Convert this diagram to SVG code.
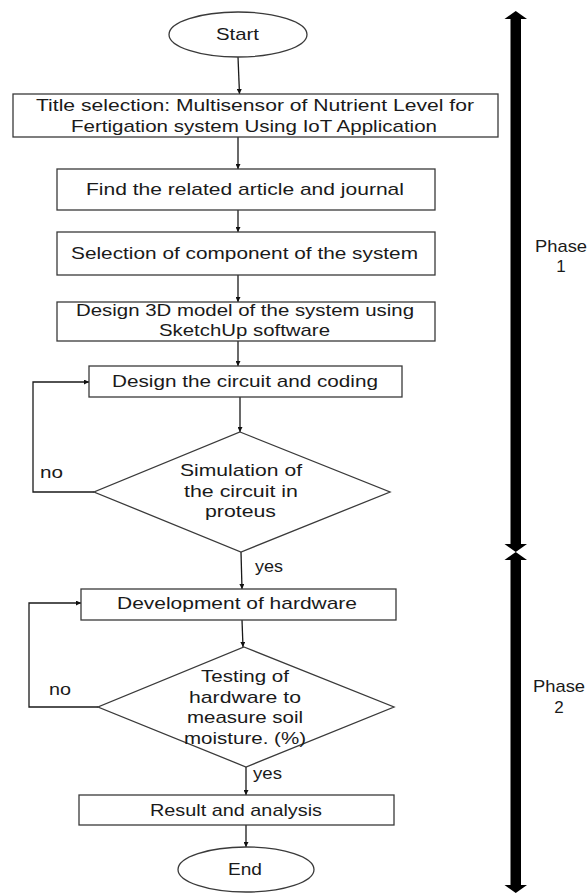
<svg xmlns="http://www.w3.org/2000/svg" width="588" height="893" viewBox="0 0 588 893">
<defs>
<marker id="ah" viewBox="0 0 8 8" refX="8" refY="4" markerWidth="5" markerHeight="5" orient="auto" markerUnits="userSpaceOnUse">
<path d="M0,0 L8,4 L0,8 z" fill="#111"/>
</marker>
<style>
.box{fill:#fff;stroke:#3a3a3a;stroke-width:1.3}
.t{font-family:"Liberation Sans",Arial,sans-serif;font-size:17px;fill:#1a1a1a;text-anchor:middle}
.l{font-family:"Liberation Sans",Arial,sans-serif;font-size:17px;fill:#1a1a1a}
.c{fill:none;stroke:#1a1a1a;stroke-width:1.3}
.big{fill:#000}
</style>
</defs>
<rect width="588" height="893" fill="#fff"/>
<g id="connectors">
<path class="c" d="M238,57 L239.5,94" marker-end="url(#ah)"/>
<path class="c" d="M238,137 L238,169" marker-end="url(#ah)"/>
<path class="c" d="M238,210 L238,232" marker-end="url(#ah)"/>
<path class="c" d="M238,275 L238,302" marker-end="url(#ah)"/>
<path class="c" d="M238,341 L238,366" marker-end="url(#ah)"/>
<path class="c" d="M240,397 L240,432" marker-end="url(#ah)"/>
<path class="c" d="M94,492 L33,492 L33,382 L89,382" marker-end="url(#ah)"/>
<path class="c" d="M241,552 L242,589" marker-end="url(#ah)"/>
<path class="c" d="M242,620 L243,647" marker-end="url(#ah)"/>
<path class="c" d="M98,707 L29,707 L29,603 L81,603" marker-end="url(#ah)"/>
<path class="c" d="M246,767 L246,795" marker-end="url(#ah)"/>
<path class="c" d="M246,825 L246,847" marker-end="url(#ah)"/>
<text class="l" x="40" y="478" textLength="23" lengthAdjust="spacingAndGlyphs">no</text>
<text class="l" x="255" y="572" textLength="28" lengthAdjust="spacingAndGlyphs">yes</text>
<text class="l" x="49" y="695" textLength="22" lengthAdjust="spacingAndGlyphs">no</text>
<text class="l" x="253" y="779" textLength="29" lengthAdjust="spacingAndGlyphs">yes</text>
</g>
<g id="start">
<ellipse class="box" cx="238" cy="34.5" rx="69" ry="22.5"/>
<text class="t" x="237.5" y="40" textLength="43" lengthAdjust="spacingAndGlyphs">Start</text>
</g>
<g id="title">
<rect class="box" x="13" y="94" width="485" height="43"/>
<text class="t" x="255" y="111" textLength="438" lengthAdjust="spacingAndGlyphs">Title selection: Multisensor of Nutrient Level for</text>
<text class="t" x="254" y="132" textLength="366" lengthAdjust="spacingAndGlyphs">Fertigation system Using IoT Application</text>
</g>
<g id="find">
<rect class="box" x="57" y="169" width="378" height="41"/>
<text class="t" x="245" y="195" textLength="318" lengthAdjust="spacingAndGlyphs">Find the related article and journal</text>
</g>
<g id="selection">
<rect class="box" x="57" y="232" width="378" height="43"/>
<text class="t" x="244.5" y="259" textLength="347" lengthAdjust="spacingAndGlyphs">Selection of component of the system</text>
</g>
<g id="design3d">
<rect class="box" x="57" y="302" width="378" height="39"/>
<text class="t" x="245" y="316" textLength="338" lengthAdjust="spacingAndGlyphs">Design 3D model of the system using</text>
<text class="t" x="244.5" y="336" textLength="171" lengthAdjust="spacingAndGlyphs">SketchUp software</text>
</g>
<g id="circuit">
<rect class="box" x="89" y="366" width="313" height="31"/>
<text class="t" x="245" y="387" textLength="266" lengthAdjust="spacingAndGlyphs">Design the circuit and coding</text>
</g>
<g id="simulation">
<polygon class="box" points="240,432 390,492 241,552 94,492"/>
<text class="t" x="241" y="476" textLength="122" lengthAdjust="spacingAndGlyphs">Simulation of</text>
<text class="t" x="241" y="497" textLength="114" lengthAdjust="spacingAndGlyphs">the circuit in</text>
<text class="t" x="240.5" y="517" textLength="71" lengthAdjust="spacingAndGlyphs">proteus</text>
</g>
<g id="hardware">
<rect class="box" x="81" y="589" width="315" height="31"/>
<text class="t" x="237" y="609" textLength="240" lengthAdjust="spacingAndGlyphs">Development of hardware</text>
</g>
<g id="testing">
<polygon class="box" points="244,647 394,707 246,767 98,707"/>
<text class="t" x="245" y="682" textLength="88" lengthAdjust="spacingAndGlyphs">Testing of</text>
<text class="t" x="245" y="703" textLength="112" lengthAdjust="spacingAndGlyphs">hardware to</text>
<text class="t" x="245" y="723" textLength="116" lengthAdjust="spacingAndGlyphs">measure soil</text>
<text class="t" x="245" y="744" textLength="122" lengthAdjust="spacingAndGlyphs">moisture. (%)</text>
</g>
<g id="result">
<rect class="box" x="79" y="795" width="315" height="30"/>
<text class="t" x="236" y="816" textLength="172" lengthAdjust="spacingAndGlyphs">Result and analysis</text>
</g>
<g id="end">
<ellipse class="box" cx="246" cy="869.5" rx="68" ry="22.5"/>
<text class="t" x="245" y="875" textLength="34" lengthAdjust="spacingAndGlyphs">End</text>
</g>
<g id="phase1">
<polygon class="big" points="515.75,11 527,19 521,19 521,544 527,544 515.75,552 504.5,544 510.5,544 510.5,19 504.5,19"/>
<text class="t" x="561" y="252" textLength="52" lengthAdjust="spacingAndGlyphs">Phase</text>
<text class="t" x="561" y="272">1</text>
</g>
<g id="phase2">
<polygon class="big" points="515.75,552 527,560 521,560 521,885 527,885 515.75,893 504.5,885 510.5,885 510.5,560 504.5,560"/>
<text class="t" x="559" y="692" textLength="52" lengthAdjust="spacingAndGlyphs">Phase</text>
<text class="t" x="559" y="713">2</text>
</g>
</svg>
